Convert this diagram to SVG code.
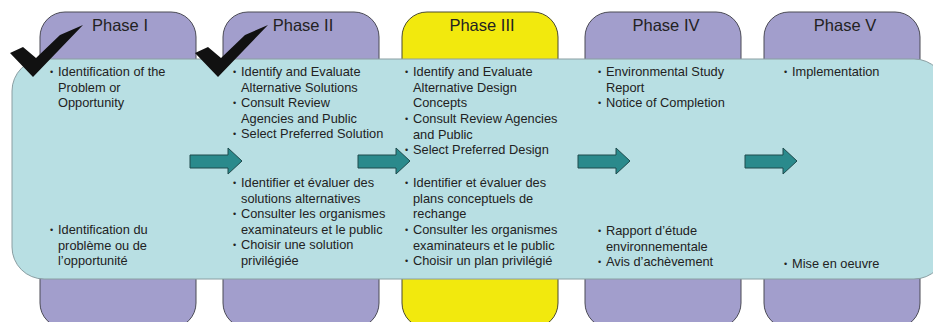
<svg xmlns="http://www.w3.org/2000/svg" width="933" height="322" viewBox="0 0 933 322">
<defs>
<style>
.box{fill:#a29ecc;stroke:#4a4a55;stroke-width:1}
.yel{fill:#f2e90d;stroke:#4a4a30;stroke-width:1}
.band{fill:#b8dfe3;stroke:#8a9ea2;stroke-width:1}
.title{font-family:"Liberation Sans",Arial,sans-serif;font-size:16.5px;fill:#222;text-anchor:middle}
.t{font-family:"Liberation Sans",Arial,sans-serif;font-size:12.8px;fill:#222}
.b{font-family:"Liberation Sans",Arial,sans-serif;font-size:9px;fill:#222}
.arr{fill:#2a8a8c;stroke:#1e4a4c;stroke-width:1}
.chk{fill:#111}
</style>
</defs>
<rect width="933" height="322" fill="#ffffff"/>
<g id="phase1-box"><rect class="box" x="40" y="12" width="156" height="316" rx="25"/><text class="title" x="120" y="31">Phase I</text></g>
<g id="phase2-box"><rect class="box" x="223" y="12" width="156" height="316" rx="25"/><text class="title" x="303" y="31">Phase II</text></g>
<g id="phase3-box"><rect class="yel" x="402" y="12" width="156" height="316" rx="25"/><text class="title" x="482" y="31">Phase III</text></g>
<g id="phase4-box"><rect class="box" x="585" y="12" width="156" height="316" rx="25"/><text class="title" x="666" y="31">Phase IV</text></g>
<g id="phase5-box"><rect class="box" x="764" y="12" width="156" height="316" rx="25"/><text class="title" x="845" y="31">Phase V</text></g>
<g id="band"><rect class="band" x="12" y="59" width="934" height="220" rx="32"/></g>
<g id="checkmarks">
<polygon class="chk" points="10,53 23,47 36,58 60,35 83,25 33,77"/>
<polygon class="chk" points="195,53 208,47 221,58 245,35 268,25 218,77"/>
</g>
<g id="connectors">
<polygon class="arr" points="190,155 228,155 228,148 242,161 228,174 228,168 190,168"/>
<polygon class="arr" points="358,155 396,155 396,148 410,161 396,174 396,168 358,168"/>
<polygon class="arr" points="578,155 616,155 616,148 630,161 616,174 616,168 578,168"/>
<polygon class="arr" points="745,155 783,155 783,148 797,161 783,174 783,168 745,168"/>
</g>
<g id="phase1-text">
<text class="b" x="50" y="75">•</text>
<text class="t" x="58" y="76">Identification of the</text>
<text class="t" x="58" y="91.5">Problem or</text>
<text class="t" x="58" y="107">Opportunity</text>
<text class="b" x="50" y="233">•</text>
<text class="t" x="58" y="234">Identification du</text>
<text class="t" x="58" y="249.5">problème ou de</text>
<text class="t" x="58" y="265">l’opportunité</text>
</g>
<g id="phase2-text">
<text class="b" x="233" y="75">•</text>
<text class="t" x="241" y="76">Identify and Evaluate</text>
<text class="t" x="241" y="91.5">Alternative Solutions</text>
<text class="b" x="233" y="106">•</text>
<text class="t" x="241" y="107">Consult Review</text>
<text class="t" x="241" y="122.5">Agencies and Public</text>
<text class="b" x="233" y="137">•</text>
<text class="t" x="241" y="138">Select Preferred Solution</text>
<text class="b" x="233" y="186">•</text>
<text class="t" x="241" y="187">Identifier et évaluer des</text>
<text class="t" x="241" y="202.5">solutions alternatives</text>
<text class="b" x="233" y="217">•</text>
<text class="t" x="241" y="218">Consulter les organismes</text>
<text class="t" x="241" y="233.5">examinateurs et le public</text>
<text class="b" x="233" y="248">•</text>
<text class="t" x="241" y="249">Choisir une solution</text>
<text class="t" x="241" y="264.5">privilégiée</text>
</g>
<g id="phase3-text">
<text class="b" x="405" y="75">•</text>
<text class="t" x="413" y="76">Identify and Evaluate</text>
<text class="t" x="413" y="91.5">Alternative Design</text>
<text class="t" x="413" y="107">Concepts</text>
<text class="b" x="405" y="122">•</text>
<text class="t" x="413" y="123">Consult Review Agencies</text>
<text class="t" x="413" y="138.5">and Public</text>
<text class="b" x="405" y="153">•</text>
<text class="t" x="413" y="154">Select Preferred Design</text>
<text class="b" x="405" y="186">•</text>
<text class="t" x="413" y="187">Identifier et évaluer des</text>
<text class="t" x="413" y="202.5">plans conceptuels de</text>
<text class="t" x="413" y="218">rechange</text>
<text class="b" x="405" y="233">•</text>
<text class="t" x="413" y="234">Consulter les organismes</text>
<text class="t" x="413" y="249.5">examinateurs et le public</text>
<text class="b" x="405" y="264">•</text>
<text class="t" x="413" y="265">Choisir un plan privilégié</text>
</g>
<g id="phase4-text">
<text class="b" x="598" y="75">•</text>
<text class="t" x="606" y="76">Environmental Study</text>
<text class="t" x="606" y="91.5">Report</text>
<text class="b" x="598" y="106">•</text>
<text class="t" x="606" y="107">Notice of Completion</text>
<text class="b" x="598" y="234">•</text>
<text class="t" x="606" y="235">Rapport d’étude</text>
<text class="t" x="606" y="250.5">environnementale</text>
<text class="b" x="598" y="265">•</text>
<text class="t" x="606" y="266">Avis d’achèvement</text>
</g>
<g id="phase5-text">
<text class="b" x="784" y="75">•</text>
<text class="t" x="792" y="76">Implementation</text>
<text class="b" x="784" y="267">•</text>
<text class="t" x="792" y="268">Mise en oeuvre</text>
</g>
</svg>
